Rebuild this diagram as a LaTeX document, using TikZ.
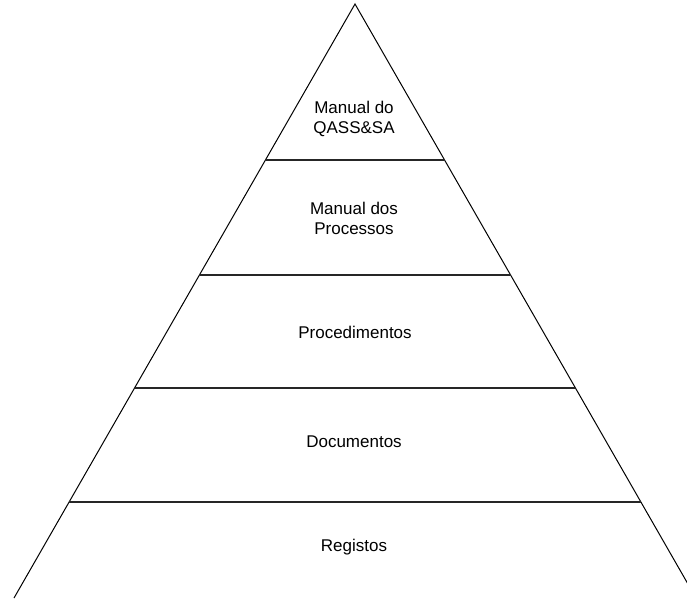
\documentclass[tikz,border=0pt]{standalone}
\usepackage{fontspec}
\setmainfont{Liberation Sans}
\usetikzlibrary{calc}

\begin{document}
\begin{tikzpicture}[x=1pt,y=-1pt,
  rotulo/.style={font=\fontsize{17}{20}\selectfont, align=center},
  divisao/.style={line width=1.6pt, black!85}]
  \useasboundingbox (0,0) rectangle (687,598);
  \clip (0,0) rectangle (687,598);

  % piramide
  \coordinate (topo) at (355,4);
  \coordinate (esq) at (14,598);
  \coordinate (dir) at (696,598);
  \draw[line width=1pt] (esq) -- (topo) -- (dir);

  % divisoes entre niveis
  \foreach \t in {0.2626,0.4562,0.6465,0.8384} {
    \draw[divisao] ($(topo)!\t!(esq)$) -- ($(topo)!\t!(dir)$);
  }

  % niveis
  \node[rotulo] (manual)   at (354,119) {Manual do\\QASS\&SA};
  \node[rotulo] (processos) at (354,218) {Manual dos\\Processos};
  \node[rotulo] (proced)   at (355,332) {Procedimentos};
  \node[rotulo] (docs)     at (354,442) {Documentos};
  \node[rotulo] (registos) at (354,547) {Registos};
\end{tikzpicture}
\end{document}
